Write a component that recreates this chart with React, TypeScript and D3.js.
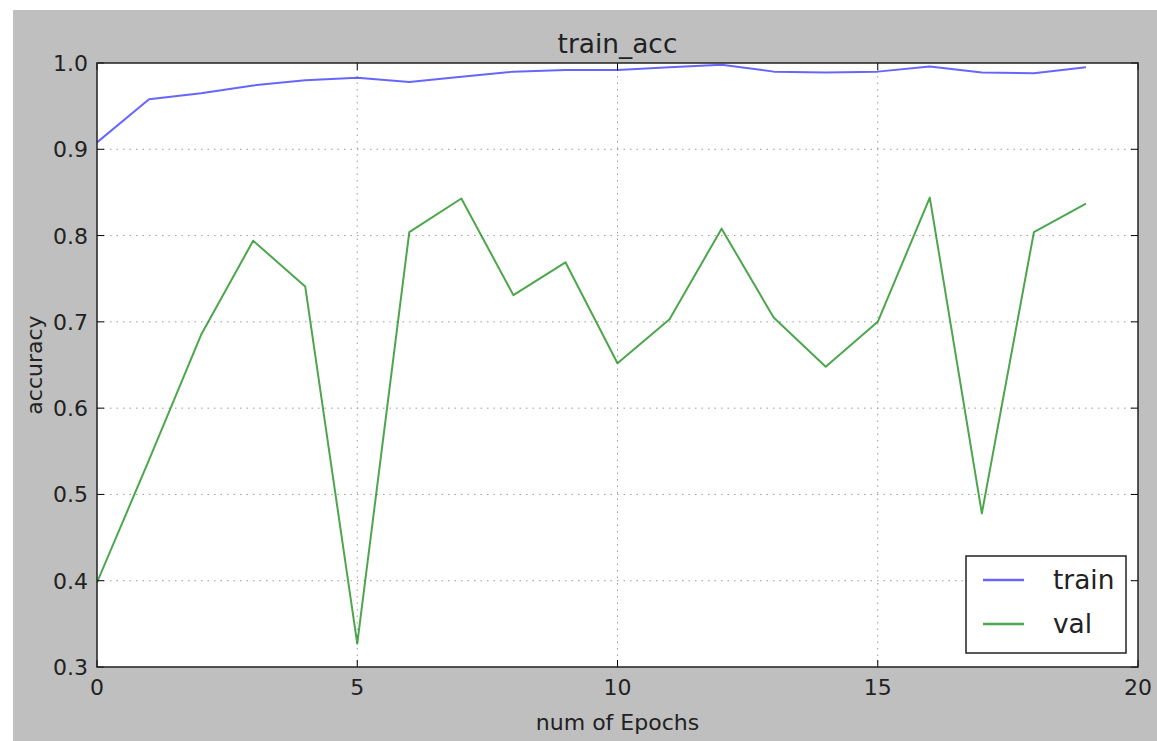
import React from "react";
import * as d3 from "d3";

const epochs = [0, 1, 2, 3, 4, 5, 6, 7, 8, 9, 10, 11, 12, 13, 14, 15, 16, 17, 18, 19];
const trainAcc = [0.908, 0.958, 0.965, 0.974, 0.980, 0.983, 0.978, 0.984, 0.990, 0.992, 0.992, 0.995, 0.998, 0.990, 0.989, 0.990, 0.996, 0.989, 0.988, 0.995];
const valAcc = [0.398, 0.54, 0.685, 0.794, 0.741, 0.327, 0.804, 0.843, 0.731, 0.769, 0.652, 0.703, 0.808, 0.705, 0.648, 0.700, 0.844, 0.478, 0.804, 0.837];
const xTicks = [0, 5, 10, 15, 20];
const yTicks = [0.3, 0.4, 0.5, 0.6, 0.7, 0.8, 0.9, 1.0];
const seriesNames = ["train", "val"];

const W = 1157;
const H = 741;
const L = 97, R = 1138, T = 63, B = 667;
const FONT = "DejaVu Sans, sans-serif";

export default function App() {
  const x = d3.scaleLinear().domain([0, 20]).range([L, R]);
  const y = d3.scaleLinear().domain([0.3, 1.0]).range([B, T]);
  const line = d3.line<number>().x((_, i) => x(epochs[i])).y((d) => y(d));
  const fmt = d3.format(".1f");
  const colors = ["rgba(0,0,255,0.6)", "rgba(0,128,0,0.7)"];
  const tickLen = 7;

  return (
    <div style={{ position: "absolute", left: 0, top: 0 }}>
      <svg width={W} height={H} style={{ display: "block" }}>
        <rect x={0} y={0} width={W} height={H} fill="#ffffff" />
        <rect x={13} y={10} width={W - 13} height={H - 10} fill="#bfbfbf" />
        <rect x={L} y={T} width={R - L} height={B - T} fill="#ffffff" />
        <defs>
          <clipPath id="plotclip">
            <rect x={L} y={T} width={R - L} height={B - T} />
          </clipPath>
        </defs>
        {/* grid */}
        <g stroke="#9a9a9a" strokeWidth={1} strokeDasharray="1.5,5">
          {xTicks.slice(1, -1).map((t) => (
            <line key={"gx" + t} x1={x(t)} x2={x(t)} y1={T} y2={B} />
          ))}
          {yTicks.slice(1, -1).map((t) => (
            <line key={"gy" + t} x1={L} x2={R} y1={y(t)} y2={y(t)} />
          ))}
        </g>
        {/* lines */}
        <g clipPath="url(#plotclip)" fill="none" strokeWidth={2} strokeLinejoin="round">
          <path d={line(trainAcc) || ""} stroke={colors[0]} />
          <path d={line(valAcc) || ""} stroke={colors[1]} />
        </g>
        {/* ticks */}
        <g stroke="#000" strokeWidth={1}>
          {xTicks.map((t) => (
            <g key={"tx" + t}>
              <line x1={x(t)} x2={x(t)} y1={B} y2={B - tickLen} />
              <line x1={x(t)} x2={x(t)} y1={T} y2={T + tickLen} />
            </g>
          ))}
          {yTicks.map((t) => (
            <g key={"ty" + t}>
              <line x1={L} x2={L + tickLen} y1={y(t)} y2={y(t)} />
              <line x1={R} x2={R - tickLen} y1={y(t)} y2={y(t)} />
            </g>
          ))}
        </g>
        {/* frame */}
        <rect x={L} y={T} width={R - L} height={B - T} fill="none" stroke="#222" strokeWidth={1.5} />
        {/* tick labels */}
        <g fontFamily={FONT} fontSize={22} fill="#222">
          {xTicks.map((t) => (
            <text key={"lx" + t} x={x(t)} y={695} textAnchor="middle">
              {t}
            </text>
          ))}
          {yTicks.map((t) => (
            <text key={"ly" + t} x={88} y={y(t) + 8} textAnchor="end">
              {fmt(t)}
            </text>
          ))}
        </g>
        {/* axis labels & title */}
        <text x={(L + R) / 2} y={730} textAnchor="middle" fontFamily={FONT} fontSize={22} fill="#222">
          num of Epochs
        </text>
        <text
          transform={`translate(42,${(T + B) / 2}) rotate(-90)`}
          textAnchor="middle"
          fontFamily={FONT}
          fontSize={22}
          fill="#222"
        >
          accuracy
        </text>
        <text x={(L + R) / 2} y={53} textAnchor="middle" fontFamily={FONT} fontSize={26.4} fill="#222">
          train_acc
        </text>
        {/* legend */}
        <rect x={966} y={556} width={160} height={97} fill="#fff" stroke="#222" strokeWidth={1.5} />
        {seriesNames.map((n, i) => (
          <g key={n}>
            <line x1={983} x2={1024} y1={580 + i * 44} y2={580 + i * 44} stroke={colors[i]} strokeWidth={2.5} />
            <text x={1053} y={580 + i * 44 + 9} fontFamily={FONT} fontSize={26.4} fill="#222">
              {n}
            </text>
          </g>
        ))}
      </svg>
    </div>
  );
}
